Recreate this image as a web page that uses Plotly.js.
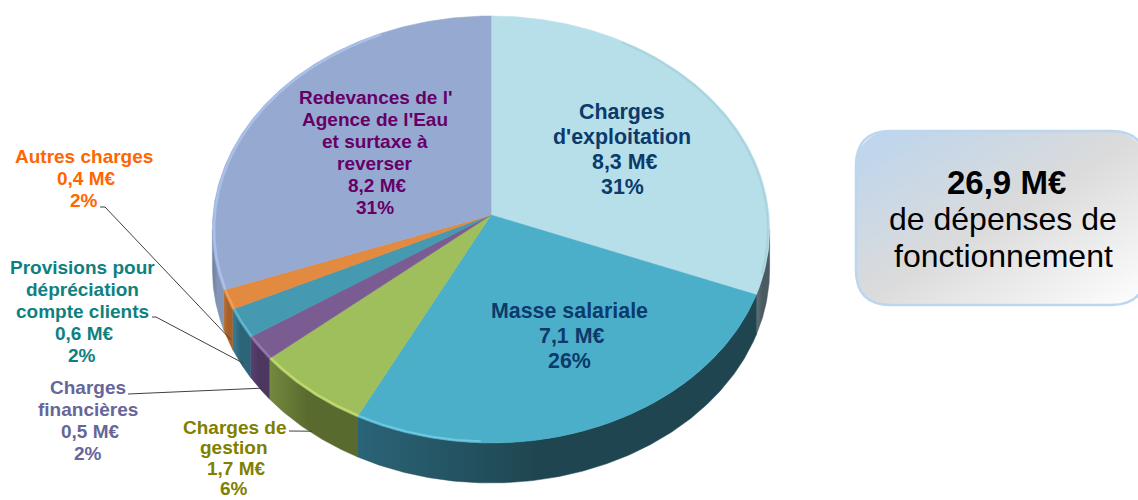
<!DOCTYPE html>
<html><head><meta charset="utf-8">
<script src="https://cdn.plot.ly/plotly-3.0.1.min.js"></script>
<style>html,body{margin:0;padding:0;background:#fff;overflow:hidden}</style></head>
<body><div id="chart" style="width:1138px;height:500px"></div>
<script>
// ---- data ----
const categories = ["Charges d'exploitation","Masse salariale","Charges de gestion","Charges financières","Provisions pour dépréciation compte clients","Autres charges","Redevances de l'Agence de l'Eau et surtaxe à reverser"];
const valuesMEur = [8.3,7.1,1.7,0.5,0.6,0.4,8.2];
const percents = [31,26,6,2,2,2,31];
const totalText = "26,9 M€";
const labelLines = [["Charges","d'exploitation"],["Masse salariale"],["Charges de","gestion"],["Charges","financières"],["Provisions pour","dépréciation","compte clients"],["Autres charges"],["Redevances de l'","Agence de l'Eau","et surtaxe à","reverser"]];

// ---- styling ----
const faceColors = ['#B7DFE9','#4CAFCA','#9FBF5C','#7A5C93','#4599B0','#E28A40','#96AAD1'];
const wallStops = [['#5E7077','#4A5A60'],['#2A6478','#1F4650'],['#74893F','#586A2E'],['#5A4272','#4C3760'],['#38809A','#2C6478'],['#C2722E','#A8602A'],['#6E7F9C','#8494B4']];
const textColors = ['#0B3A6B','#0B3A6B','#808000','#666699','#0F8080','#FF6600','#660066'];
const labelPlace = [
 {x:622,y:112,dy:25,size:21.4},{x:569,y:311,dy:25,size:21.4},{x:234,y:427,dy:20.6,size:19},
 {x:88,y:387.5,dy:22,size:19},{x:82,y:267.5,dy:22,size:19},{x:84,y:156.5,dy:22,size:19},{x:375,y:97.5,dy:22,size:19}];
const leaderStart = {2:[[289,431],[300,431]],3:[[128,394],[128,394]],4:[[152,317],[156,317]],5:[[100,207],[105,207]]};

// perspective projection of the disc onto the page
const apex=[491,215], A=278, B=212.5, K=0.0679, depth=40;
const rad=d=>d*Math.PI/180;
function rim(t,r=1,dy=0){const s=Math.sin(rad(t))*r,c=Math.cos(rad(t))*r,w=1+K*c;return [apex[0]+A*s/w, apex[1]-B*c/w+dy];}
function arc(a,b,r=1,dy=0){const pts=[],n=Math.max(2,Math.ceil(Math.abs(b-a)*2));for(let i=0;i<=n;i++)pts.push(rim(a+(b-a)*i/n,r,dy));return pts;}
const total=valuesMEur.reduce((p,c)=>p+c,0);
const edges=[0];valuesMEur.forEach(v=>edges.push(edges[edges.length-1]+v/total*360));
const visFrom=Math.acos(-K)*180/Math.PI, visTo=360-visFrom;

const traces=[];
const xy=pts=>({x:pts.map(p=>p[0]),y:pts.map(p=>p[1])});
// walls
valuesMEur.forEach((v,i)=>{
  const a=Math.max(edges[i],visFrom),b=Math.min(edges[i+1],visTo);
  if(b<=a)return;
  const top=arc(a,b),bot=arc(b,a,1,depth),p=top.concat(bot);p.push(p[0]);
  const xs=p.map(q=>q[0]),x0=Math.min(...xs),x1=Math.max(...xs);
  traces.push({type:'scatter',mode:'lines',...xy(p),fill:'toself',line:{width:0.5,color:wallStops[i][1]},
    fillgradient:{type:'horizontal',start:x0,stop:x1,colorscale:[[0,wallStops[i][0]],[0.45,wallStops[i][1]],[1,wallStops[i][1]]]},hoverinfo:'skip',name:categories[i]+' (côté)'});
});
// top faces
valuesMEur.forEach((v,i)=>{
  const p=[apex].concat(arc(edges[i],edges[i+1]));p.push(apex);
  traces.push({type:'scatter',mode:'lines',...xy(p),fill:'toself',fillcolor:faceColors[i],line:{width:0.6,color:faceColors[i]},hoverinfo:'skip',name:categories[i]});
});
// bevel highlights along the rim
const bevel=[[0,30,106,'#ABD3DE',2],[1,182,edges[2],'#70C8E0',2],[2,edges[2],edges[3],'#C2DA70',2],[3,edges[3],edges[4],'#9478AE',2],[4,edges[4],edges[5],'#62B8D0',2],[5,edges[5],edges[6],'#ECA060',2],[6,edges[6],335,'#A9C0EA',2.5]];
bevel.forEach(s=>{traces.push({type:'scatter',mode:'lines',...xy(arc(s[1],s[2],0.994)),line:{width:s[4],color:s[3]},hoverinfo:'skip'});});
// leaders end on the lower wall edge at each slice's middle
Object.keys(leaderStart).forEach(k=>{const i=+k,m=(edges[i]+edges[i+1])/2,e=rim(m,1,depth);
  const p=leaderStart[k].concat([[e[0]+3,e[1]]]);
  traces.push({type:'scatter',mode:'lines',...xy(p),line:{width:1,color:'#404040'},hoverinfo:'skip'});});

const annotations=[];
function txt(x,y,t,size,color,bold){annotations.push({xref:'x',yref:'y',x,y,text:bold?'<b>'+t+'</b>':t,showarrow:false,xanchor:'center',yanchor:'middle',borderpad:0,font:{family:'"Liberation Sans",Arial,sans-serif',size,color}});}
valuesMEur.forEach((v,i)=>{
  const names=labelLines[i],pl=labelPlace[i];
  names.forEach((l,j)=>txt(pl.x,pl.y+j*pl.dy,l,pl.size,textColors[i],true));
  txt(pl.x+2.5,pl.y+names.length*pl.dy,v.toFixed(1).replace('.',',')+' M€',pl.size,textColors[i],true);
  txt(pl.x,pl.y+(names.length+1)*pl.dy,percents[i]+'%',pl.size,textColors[i],true);
});
txt(1006,182,totalText,33,'#000',true);
txt(1003,219,'de dépenses de',32,'#000',false);
txt(1003,256,'fonctionnement',32,'#000',false);

const boxSvg="data:image/svg+xml;utf8,"+encodeURIComponent('<svg xmlns="http://www.w3.org/2000/svg" width="292" height="175" viewBox="0 0 292 175"><defs><linearGradient id="g" x1="0" y1="0" x2="1" y2="1"><stop offset="0.02" stop-color="#BCD5EE"/><stop offset="0.5" stop-color="#DBDBDB"/><stop offset="1" stop-color="#FFFFFF"/></linearGradient></defs><rect x="0" y="0" width="292" height="175" rx="36" ry="36" fill="url(#g)"/></svg>');
const layout={width:1138,height:500,margin:{l:0,r:0,t:0,b:0},paper_bgcolor:'#fff',plot_bgcolor:'rgba(0,0,0,0)',showlegend:false,hovermode:false,
 xaxis:{range:[0,1138],visible:false,fixedrange:true},yaxis:{range:[500,0],visible:false,fixedrange:true},
 images:[{source:boxSvg,xref:'x',yref:'y',x:855,y:131,sizex:292,sizey:175,sizing:'stretch',xanchor:'left',yanchor:'top',layer:'below'}],
 shapes:[{type:'path',xref:'x',yref:'y',path:'M 1111 131 L 891 131 Q 856 131 856 166 L 856 270 Q 856 305 891 305 L 1111 305 Q 1146 305 1146 270 L 1146 166 Q 1146 131 1111 131 Z',line:{color:'#BCD6EE',width:2.5},fillcolor:'rgba(0,0,0,0)'}],
 annotations};
Plotly.newPlot('chart',traces,layout,{displayModeBar:false,staticPlot:true});
</script></body></html>
